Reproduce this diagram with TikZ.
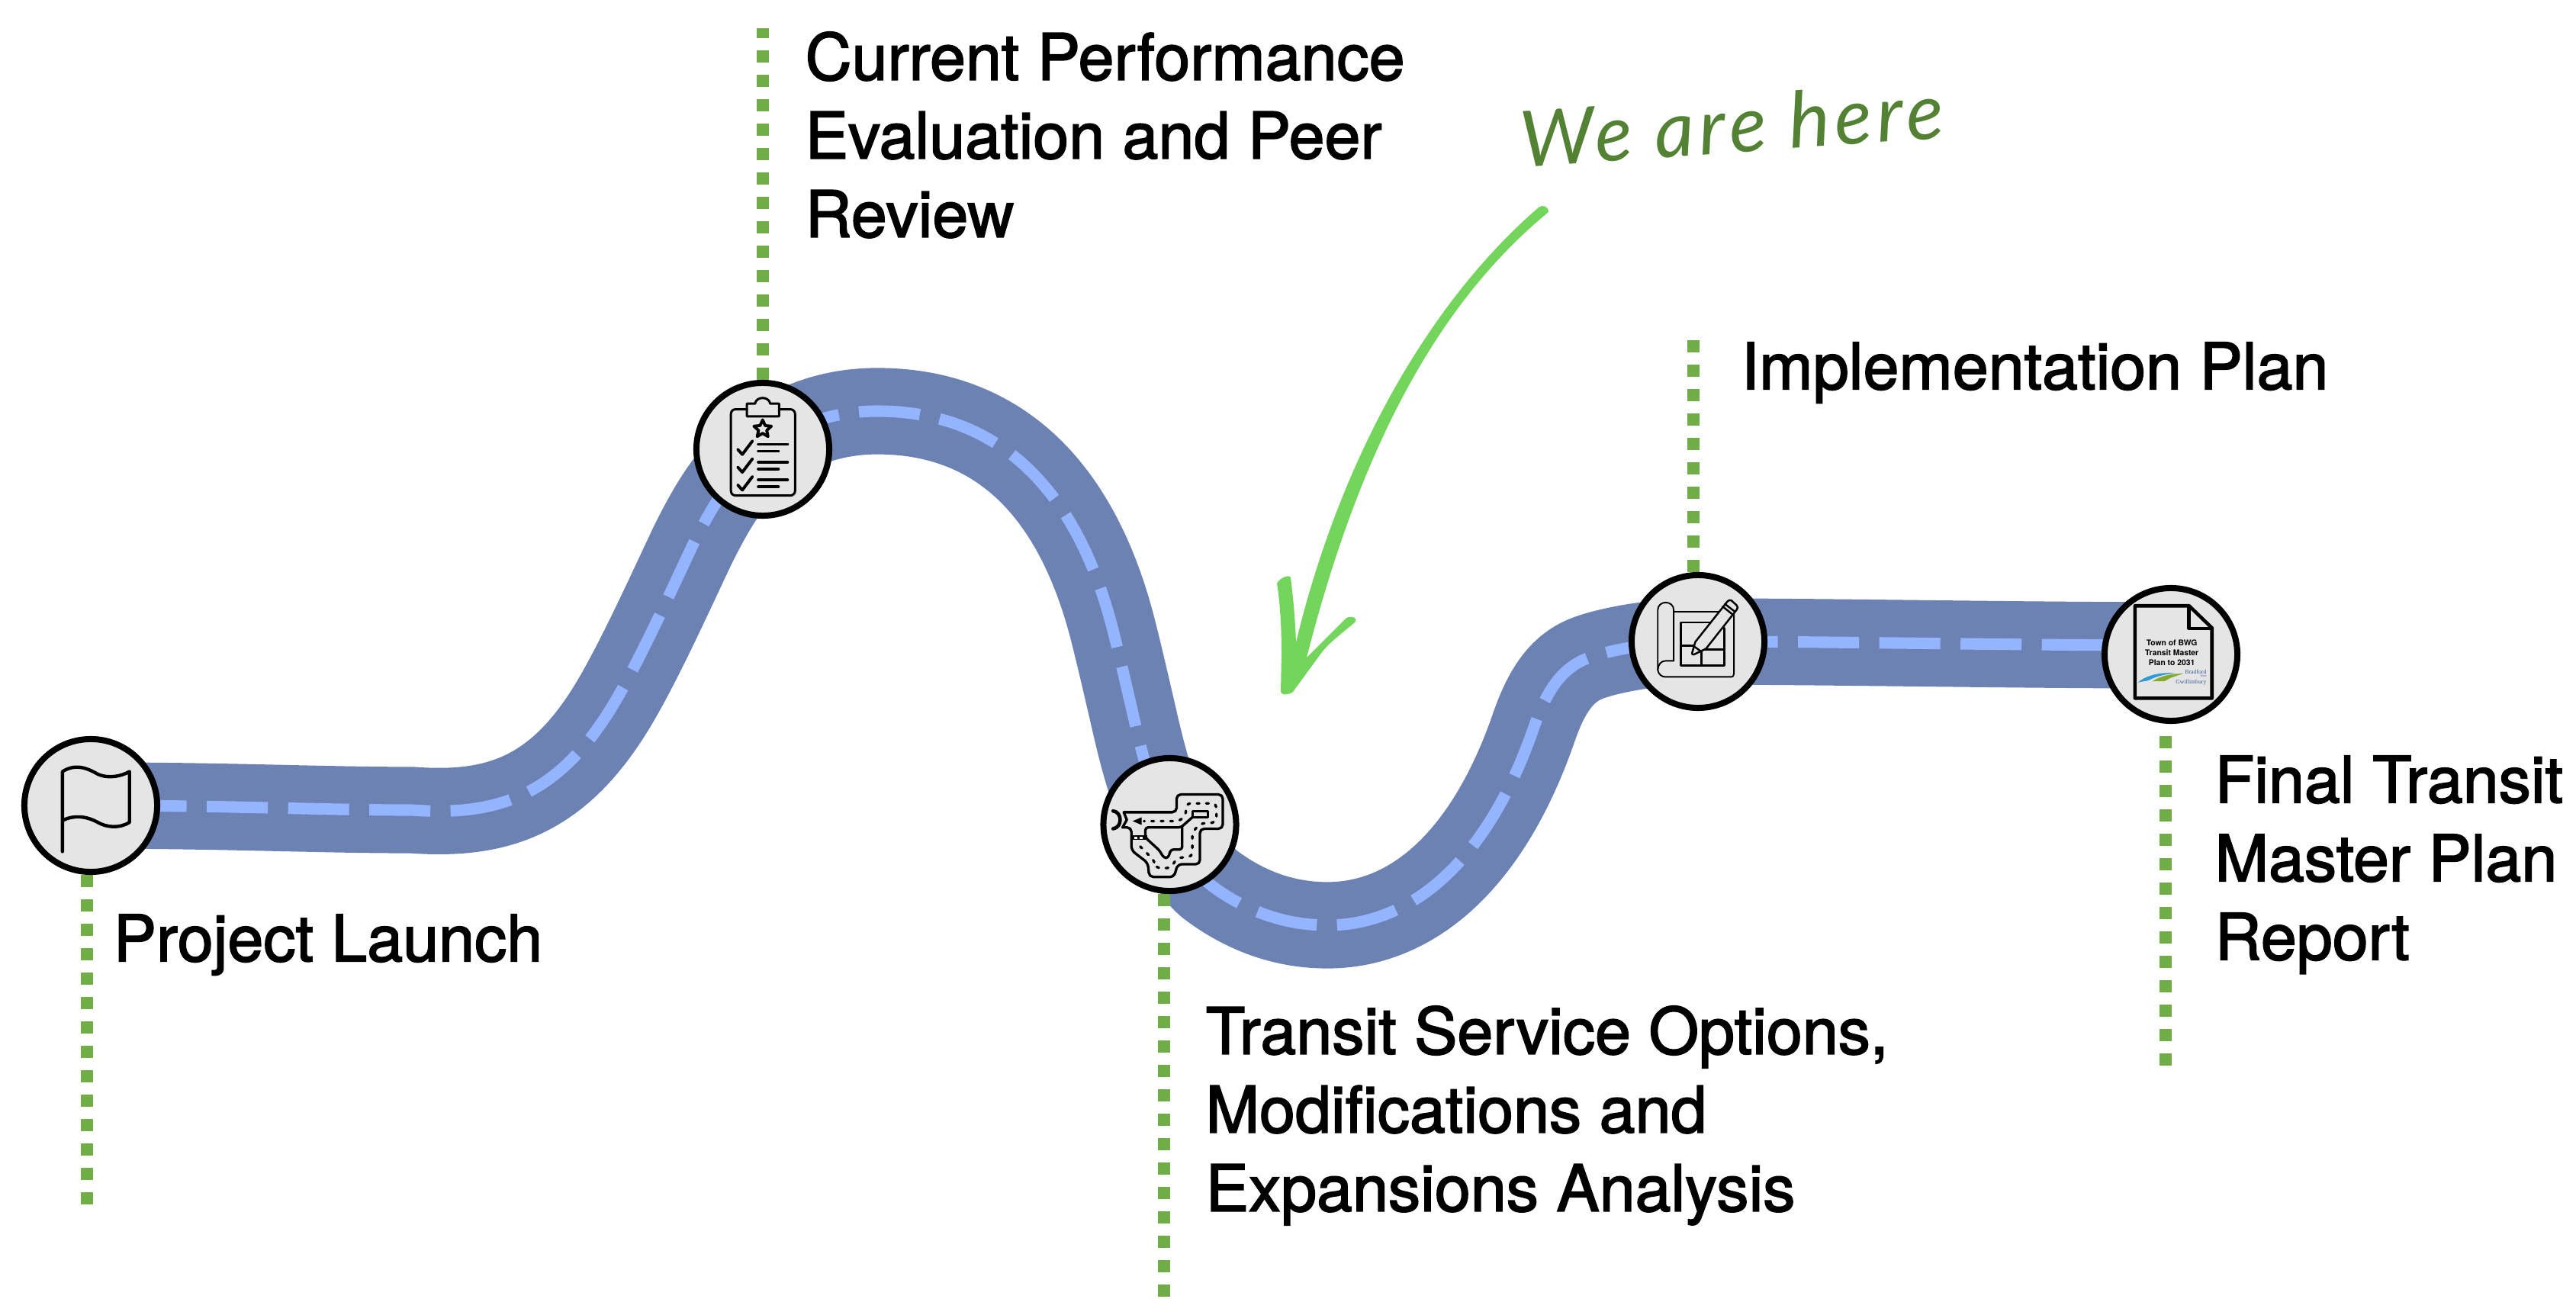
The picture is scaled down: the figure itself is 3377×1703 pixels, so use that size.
\documentclass[tikz,border=0pt]{standalone}
\usepackage{fontspec}
\setmainfont{TeX Gyre Heros}
\newfontfamily\labelf{TeX Gyre Heros}[FakeBold=2]
\newfontfamily\handf{Lato}[LetterSpace=6]
\newfontfamily\serifs{Liberation Serif}
\usetikzlibrary{backgrounds}
\definecolor{roadc}{HTML}{6C82B3}
\definecolor{lanec}{HTML}{94B4FF}
\definecolor{dotc}{HTML}{70AD47}
\definecolor{hubc}{HTML}{E5E5E5}
\definecolor{handc}{HTML}{548235}
\definecolor{arrowc}{HTML}{74D55C}
\definecolor{logob}{HTML}{2E9BD6}
\definecolor{logog}{HTML}{84A92F}
\definecolor{logot}{HTML}{3F5C9A}
\tikzset{
  hub/.style={circle,draw=black,fill=hubc,line width=2.28pt,minimum size=1.74cm,inner sep=0pt},
  lbl/.style={anchor=north west,inner sep=0pt,align=left,font=\labelf\fontsize{24pt}{29.3pt}\selectfont,text=black},
  dotline/.style={draw=dotc,line width=4.55pt,dash pattern=on 0.16cm off 0.16cm},
  road/.style={draw=roadc,line width=32.2pt},
  lane/.style={draw=lanec,line width=4.3pt,dash pattern=on 0.80cm off 0.265cm},
  ic/.style={draw=black,line width=.85pt,line cap=round,line join=round},
  icthin/.style={draw=black,line width=.55pt,line cap=round,line join=round},
  zoomed/.style={x=0.003333cm,y=-0.003333cm}
}
\begin{document}
\begin{tikzpicture}[x=0.01cm,y=-0.01cm]
\useasboundingbox (0,0) rectangle (3377,1703);
% stations
\node[hub] (flag) at (119,1056) {};
\node[hub] (clip) at (1000,589) {};
\node[hub] (route) at (1533.5,1081) {};
\node[hub] (plan) at (2226,841) {};
\node[hub] (doc) at (2846,858) {};
% free ends of the dotted leaders
\coordinate (flagEnd) at (114,1583);
\coordinate (clipEnd) at (1000,37);
\coordinate (routeEnd) at (1526,1703);
\coordinate (planEnd) at (2220,441);
\coordinate (docEnd) at (2839,1399);
\coordinate (roadEnd) at (2846,846);
\begin{scope}[on background layer]
  \def\segA{(flag.center) .. controls (300,1056) and (420,1062) .. (540,1062)
    .. controls (650,1070) and (730,1045) .. (802,927)
    .. controls (835,873) and (875,785) .. (907,717)
    .. controls (935,660) and (960,620) .. (clip.center)}
  \def\segB{(clip.center) .. controls (1040,558) and (1090,539) .. (1150,539)
    .. controls (1300,539) and (1410,630) .. (1460,830)
    .. controls (1470,870) and (1478,905) .. (1487,944)
    .. controls (1503,1014) and (1515,1050) .. (route.center)}
  \def\segC{(route.center) .. controls (1550,1110) and (1565,1145) .. (1591,1163)
    .. controls (1635,1195) and (1685,1213) .. (1740,1213)
    .. controls (1850,1213) and (1950,1130) .. (2011,953)
    .. controls (2029,901) and (2050,875) .. (2081,863)
    .. controls (2110,852) and (2170,841) .. (plan.center)}
  \def\segD{(plan.center) .. controls (2400,841) and (2650,846) .. (roadEnd)}
  \draw[road] \segA;
  \draw[road] \segB;
  \draw[road] \segC;
  \draw[road] \segD;
  \draw[lane,dash phase=0.61cm] \segA;
  \draw[lane,dash phase=0.76cm] \segB;
  \draw[lane,dash phase=0.46cm] \segC;
  \draw[lane,dash phase=0.82cm] \segD;
  \draw[dotline] (flagEnd |- flag.south) -- (flagEnd);
  \draw[dotline] (clip.north) -- (clipEnd);
  \draw[dotline] (routeEnd |- route.south) -- (routeEnd);
  \draw[dotline] (planEnd |- plan.north) -- (planEnd);
  \draw[dotline,dash phase=0.16cm] (docEnd |- doc.south) -- (docEnd);
\end{scope}
% labels
\node[lbl] (t1) at (148,1198) {Project Launch};
\node[lbl] (t2) at (1055,41) {Current Performance\\Evaluation and Peer\\Review};
\node[lbl] (t3) at (1580,1318) {Transit Service Options,\\Modifications and\\Expansions Analysis};
\node[lbl] (t4) at (2282,448) {Implementation Plan};
\node[lbl] (t5) at (2903,990) {Final Transit\\Master Plan\\Report};
\node[rotate=4,inner sep=0pt,text=handc,font=\handf\itshape\fontsize{29pt}{29pt}\selectfont] (here) at (2270,163) {We are here};
% hand-drawn arrow
\fill[arrowc] (2017,272) .. controls (2022,268) and (2030,270) .. (2030,278)
  .. controls (1900,385) and (1790,560) .. (1713,862)
  .. controls (1735,840) and (1750,825) .. (1765,810)
  .. controls (1772,807) and (1780,810) .. (1777,815)
  .. controls (1760,830) and (1745,840) .. (1733,855)
  -- (1695,907) .. controls (1690,911) and (1680,912) .. (1679,907)
  -- (1680,857) .. controls (1680,820) and (1678,790) .. (1674,765)
  .. controls (1678,757) and (1690,753) .. (1692,757)
  .. controls (1696,790) and (1698,815) .. (1699,842)
  .. controls (1760,590) and (1880,390) .. (2017,272) -- cycle;
% flag icon
\begin{scope}[shift={(0,940)},zoomed]
  \draw[ic,line width=1.25pt] (246,530) -- (246,215)
    .. controls (300,180) and (350,205) .. (385,225)
    .. controls (430,245) and (480,232) .. (510,215) -- (510,415)
    .. controls (470,440) and (420,435) .. (385,415)
    .. controls (340,390) and (290,385) .. (246,408);
\end{scope}
% clipboard icon
\begin{scope}[shift={(850,450)},zoomed]
  \draw[ic] (388,260) -- (345,260) .. controls (332,260) and (325,268) .. (325,280) -- (325,580)
    .. controls (325,592) and (332,600) .. (345,600) -- (558,600)
    .. controls (570,600) and (578,592) .. (578,580) -- (578,280)
    .. controls (578,268) and (570,260) .. (558,260) -- (515,260);
  \draw[ic] (388,238) -- (388,288) -- (515,288) -- (515,238) -- (480,238)
    .. controls (475,208) and (425,208) .. (420,238) -- cycle;
  \draw[ic,line width=1.1pt,shift={(450,338)}] (-90:36) -- (-54:17) -- (-18:36) -- (18:17) -- (54:36) -- (90:17) -- (126:36) -- (162:17) -- (198:36) -- (234:17) -- cycle;
  \foreach \d in {0,70,140} {
    \draw[ic,line width=1.1pt,yshift=\d*(-0.03333mm)] (352,418) -- (370,438) -- (410,385);
    \draw[ic,line width=1.1pt,yshift=\d*(-0.03333mm)] (433,398) -- (548,398);
    \draw[ic,line width=1.1pt,yshift=\d*(-0.03333mm)] (433,425) -- (512,425);
  }
\end{scope}
% route map icon
\begin{scope}[shift={(1400,960)},zoomed]
  \draw[ic,line width=.95pt,rounded corners=1.6pt] (220,315) -- (428,315) -- (428,245) -- (610,245) -- (610,380) -- (520,380) -- (520,520) -- (432,520) -- (418,570) -- (320,570) -- (315,515) -- (250,465) -- (250,375) -- (215,375);
  \draw[ic,line width=.95pt] (220,315) -- (232,345) -- (215,375);
  \draw[ic,line width=.85pt] (550,310) -- (490,310) -- (490,335) -- (550,335) -- cycle;
  \draw[ic,line width=.95pt,rounded corners=1pt] (490,335) -- (445,375) -- (305,375) -- (305,415) -- (360,465) -- (378,495) -- (395,495) -- (405,462) -- (450,462) -- (450,375);
  \draw[draw=black,line width=.95pt,line cap=round,dash pattern=on .9pt off 2.6pt,rounded corners=1.6pt] (285,450) -- (340,505) -- (345,535) -- (405,535) -- (430,495) -- (490,490) -- (490,395) -- (520,360) -- (585,355) -- (585,280) -- (465,280) -- (465,325) -- (440,350) -- (300,350);
  \fill (255,350) -- (290,335) -- (290,365) -- cycle;
  \draw[ic,line width=1.3pt] (178,310) .. controls (215,315) and (215,375) .. (178,380);
  \fill (250,405) rectangle (312,425);
  \draw[white,line width=.8pt,dash pattern=on 1pt off 1pt] (262,415) -- (302,415);
\end{scope}
% plan icon
\begin{scope}[shift={(2100,730)},zoomed]
  \draw[icthin] (283,410) -- (283,210) .. controls (283,170) and (220,170) .. (220,210) -- (220,445)
    .. controls (222,462) and (235,473) .. (250,473) -- (510,473)
    .. controls (516,473) and (520,469) .. (520,460) -- (520,215);
  \draw[icthin] (283,410) -- (250,410) .. controls (232,410) and (222,425) .. (220,445);
  \draw[icthin] (283,215) -- (480,215);
  \draw[ic,line width=.75pt] (425,258) -- (310,258) -- (310,428) -- (483,428) -- (483,280);
  \draw[ic,line width=.75pt] (310,350) -- (365,350);
  \draw[ic,line width=.75pt] (392,428) -- (392,365) -- (483,365);
  \draw[icthin,fill=hubc,line width=.7pt] (368,335) -- (495,175) .. controls (500,170) and (505,170) .. (510,172)
    -- (530,190) .. controls (536,196) and (536,202) .. (532,207) -- (410,362)
    -- (362,385) .. controls (356,387) and (353,382) .. (356,376) -- cycle;
  \draw[icthin,line width=.7pt] (476,196) -- (516,228);
  \draw[icthin,line width=.7pt] (485,186) -- (524,216);
  \draw[icthin,line width=.7pt] (362,352) -- (392,374);
\end{scope}
% report icon
\begin{scope}[shift={(2720,740)},zoomed]
  \draw[draw=black,line width=1.3pt,line join=round] (237,163) -- (450,163) -- (540,250) -- (540,527) -- (237,527) -- cycle;
  \draw[draw=black,line width=1.3pt,line join=round] (450,163) -- (450,252) -- (540,252);
  \node[inner sep=0pt,align=center,font=\bfseries\fontsize{2.95pt}{3.7pt}\selectfont] (doctitle) at (382,347) {Town of BWG\\Transit Master\\Plan to 2031};
  \fill[logob] (248,465) .. controls (290,430) and (350,425) .. (395,428) .. controls (350,432) and (310,445) .. (290,457) .. controls (275,460) and (260,462) .. (248,465) -- cycle;
  \fill[logog] (305,460) .. controls (340,438) and (380,430) .. (428,430) .. controls (395,440) and (370,448) .. (355,460) -- cycle;
  \node[anchor=east,inner sep=0pt,align=right,text=logot,font=\serifs\fontsize{2.2pt}{1.15pt}\selectfont] (doclogo) at (520,445) {Bradford\\[-0.1pt]{\fontsize{1.1pt}{1.1pt}\selectfont West}\\Gwillimbury};
\end{scope}
\end{tikzpicture}
\end{document}
